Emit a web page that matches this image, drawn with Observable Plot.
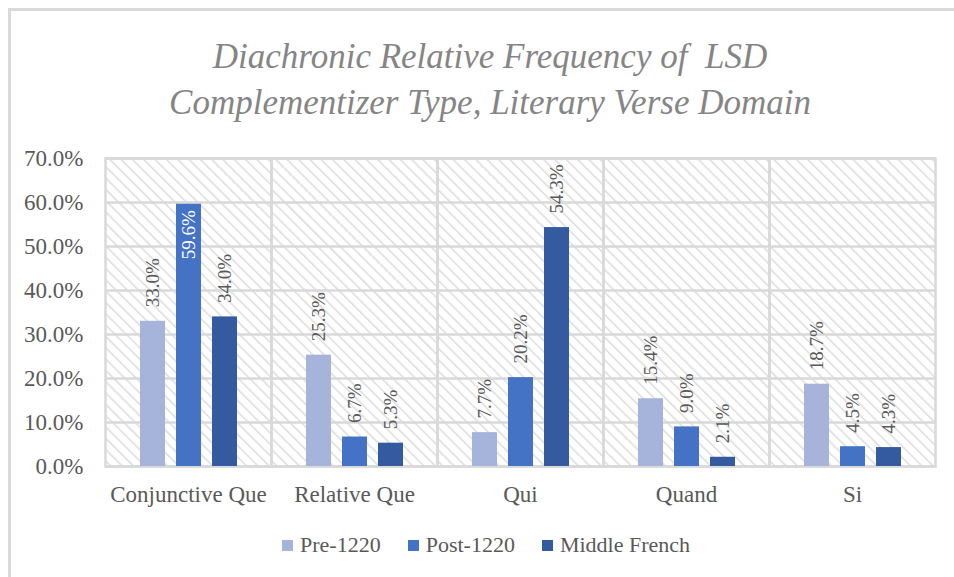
<!DOCTYPE html>
<html>
<head>
<meta charset="utf-8">
<script src="https://cdn.jsdelivr.net/npm/d3@7"></script>
<script src="https://cdn.jsdelivr.net/npm/@observablehq/plot@0.6"></script>
<style>
  html, body { margin: 0; padding: 0; background: #fff; }
  body { width: 954px; height: 577px; position: relative; overflow: hidden; font-family: "Liberation Serif", serif; }
  #frame { position: absolute; left: 8px; top: 8px; width: 960px; height: 600px; border-left: 3px solid #d9d9d9; border-top: 3px solid #d9d9d9; }
  #title { position: absolute; left: 0; width: 980px; top: 34px; text-align: center; font-style: italic; font-size: 35px; line-height: 46px; color: #858585; }
  #chart { position: absolute; left: 0; top: 130px; }
  #legend { position: absolute; top: 532px; left: 282px; font-size: 22px; color: #595959; display: flex; align-items: center; }
  #legend .item { display: flex; align-items: center; margin-right: 27px; }
  #legend .sw { width: 11px; height: 11px; margin-right: 7px; }
</style>
</head>
<body>
<svg width="0" height="0" style="position:absolute">
  <defs>
    <pattern id="hatch" width="8" height="8" patternUnits="userSpaceOnUse" patternTransform="rotate(-45)">
      <rect width="8" height="8" fill="#ffffff"></rect>
      <line x1="0" y1="0" x2="0" y2="8" stroke="#dcdcdc" stroke-width="3"></line>
    </pattern>
  </defs>
</svg>
<div id="frame"></div>
<div id="title">Diachronic Relative Frequency of&nbsp;&nbsp;LSD<br>Complementizer Type, Literary Verse Domain</div>
<div id="chart"></div>
<div id="legend"></div>
<script>
const categories = ["Conjunctive Que", "Relative Que", "Qui", "Quand", "Si"];
const series = ["Pre-1220", "Post-1220", "Middle French"];
const pre1220 = [33.0, 25.3, 7.7, 15.4, 18.7];
const post1220 = [59.6, 6.7, 20.2, 9.0, 4.5];
const middleFrench = [34.0, 5.3, 54.3, 2.1, 4.3];
const yTicks = [0, 10, 20, 30, 40, 50, 60, 70];
const colors = ["#a6b4db", "#4472c4", "#345b9f"];

const valuesBySeries = [pre1220, post1220, middleFrench];
const data = [];
categories.forEach((c, i) => {
  series.forEach((s, j) => data.push({cat: c, series: s, value: valuesBySeries[j][i]}));
});
const inside = d => d.value > 56;
const fmt = d => d.value.toFixed(1) + "%";

const plot = Plot.plot({
  width: 954,
  height: 390,
  marginLeft: 105,
  marginRight: 19,
  marginTop: 28,
  marginBottom: 54,
  style: {fontFamily: "'Liberation Serif', serif", fontSize: "23px", color: "#595959", background: "transparent", overflow: "visible"},
  fx: {domain: categories, padding: 0, label: null, tickSize: 0, tickPadding: 19, fontSize: 23},
  x: {domain: series, paddingInner: 0.306, paddingOuter: 0.958, axis: null},
  y: {domain: [0, 70], ticks: yTicks, tickFormat: d => d.toFixed(1) + "%", tickSize: 0, tickPadding: 22, label: null},
  color: {domain: series, range: colors},
  marks: [
    Plot.frame({fill: "url(#hatch)", stroke: null}),
    Plot.ruleY(yTicks, {stroke: "#d9d9d9", strokeWidth: 2.5, strokeOpacity: 1}),
    Plot.frame({stroke: "#d9d9d9", strokeWidth: 2.5, strokeOpacity: 1}),
    Plot.barY(data, {fx: "cat", x: "series", y: "value", fill: "series"}),
    Plot.text(data.filter(d => !inside(d)), {fx: "cat", x: "series", y: "value", text: fmt, rotate: -90, textAnchor: "start", dy: -14, fill: "#595959", fontSize: 19}),
    Plot.text(data.filter(inside), {fx: "cat", x: "series", y: "value", text: fmt, rotate: -90, textAnchor: "end", dy: 6, fill: "#ffffff", fontSize: 19})
  ]
});
document.getElementById("chart").appendChild(plot);

const legend = document.getElementById("legend");
series.forEach((s, j) => {
  const item = document.createElement("div");
  item.className = "item";
  const sw = document.createElement("div");
  sw.className = "sw";
  sw.style.background = colors[j];
  const lab = document.createElement("span");
  lab.textContent = s;
  item.appendChild(sw);
  item.appendChild(lab);
  legend.appendChild(item);
});
</script>
</body>
</html>
